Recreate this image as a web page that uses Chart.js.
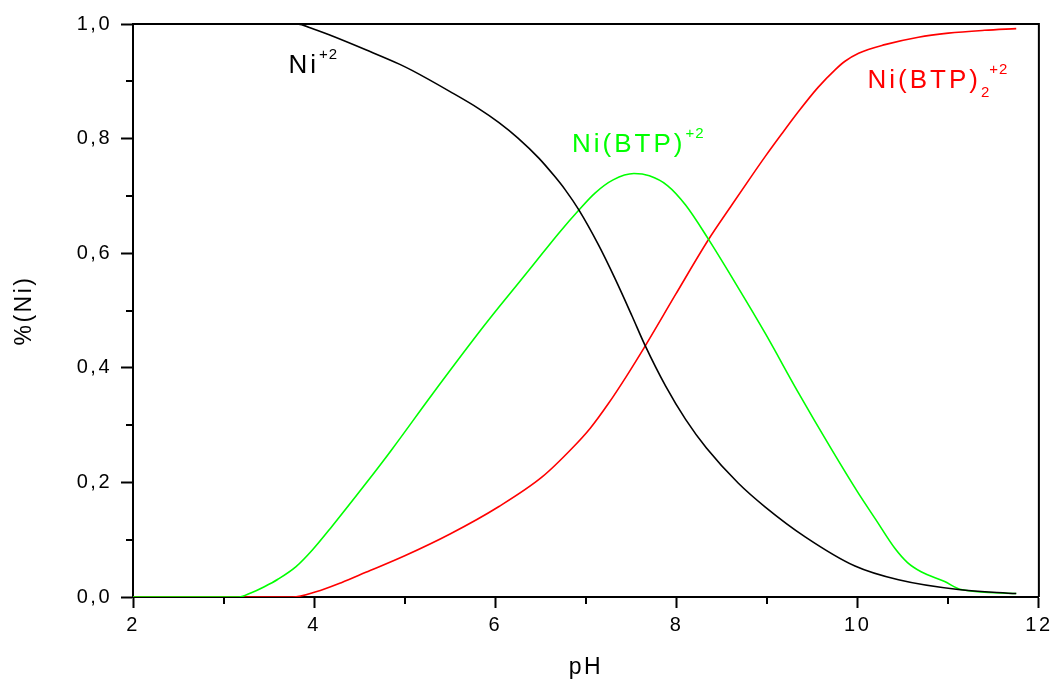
<!DOCTYPE html>
<html>
<head>
<meta charset="utf-8">
<script src="https://cdn.jsdelivr.net/npm/chart.js@4.4.1/dist/chart.umd.min.js"></script>
<style>
  html, body { margin: 0; padding: 0; background: #fff; }
  #wrap { width: 1055px; height: 683px; }
</style>
</head>
<body>
<div id="wrap"><canvas id="c" width="1055" height="683"></canvas></div>
<script>
// ---- data ----
const phNi = [2.0, 3.0, 3.8, 4.0, 4.2, 4.57, 4.94, 5.08, 5.5, 5.82, 6.04, 6.25, 6.48, 6.65, 6.77, 6.92, 7.14, 7.32, 7.51, 7.65, 7.88, 8.10, 8.33, 8.68, 8.98, 9.42, 9.97, 10.45, 11.11, 11.75];
const valNi = [1.0, 1.0, 1.0, 0.991, 0.979, 0.955, 0.930, 0.919, 0.882, 0.852, 0.828, 0.801, 0.766, 0.735, 0.711, 0.676, 0.614, 0.556, 0.490, 0.440, 0.368, 0.310, 0.260, 0.199, 0.157, 0.105, 0.054, 0.030, 0.013, 0.006];

const phNiBTP = [2.0, 3.17, 3.3, 3.45, 3.6, 3.8, 3.98, 4.2, 4.57, 4.86, 5.3, 5.82, 6.04, 6.41, 6.7, 6.92, 7.1, 7.3, 7.53, 7.7, 7.9, 8.1, 8.35, 8.68, 8.98, 9.34, 9.71, 10.0, 10.2, 10.41, 10.55, 10.7, 10.96, 11.14, 11.75];
const valNiBTP = [0.0, 0.0, 0.007, 0.018, 0.031, 0.053, 0.082, 0.124, 0.198, 0.258, 0.353, 0.462, 0.506, 0.578, 0.635, 0.675, 0.705, 0.728, 0.739, 0.735, 0.718, 0.684, 0.625, 0.540, 0.460, 0.358, 0.258, 0.183, 0.135, 0.085, 0.060, 0.044, 0.027, 0.013, 0.006];

const phNiBTP2 = [2.0, 3.76, 4.02, 4.3, 4.57, 5.0, 5.5, 6.04, 6.52, 6.85, 7.05, 7.25, 7.45, 7.65, 7.99, 8.35, 8.61, 8.83, 8.98, 9.16, 9.34, 9.56, 9.75, 9.86, 10.01, 10.30, 10.67, 11.0, 11.4, 11.75];
const valNiBTP2 = [0.0, 0.0, 0.009, 0.025, 0.043, 0.072, 0.110, 0.158, 0.210, 0.260, 0.295, 0.338, 0.386, 0.437, 0.528, 0.623, 0.684, 0.735, 0.769, 0.808, 0.846, 0.889, 0.920, 0.935, 0.949, 0.964, 0.977, 0.984, 0.989, 0.992];

const seriesNames = ['Ni+2', 'Ni(BTP)+2', 'Ni(BTP)2+2'];
const seriesColors = ['#000000', '#00ff00', '#ff0000'];

const xMin = 2, xMax = 12, xStep = 2;
const yMin = 0, yMax = 1, yStep = 0.2;
const xMinorTicks = [3, 5, 7, 9, 11];
const yMinorTicks = [0.1, 0.3, 0.5, 0.7, 0.9];

const xTitle = 'pH';
const yTitle = '%(Ni)';

// curve labels (text pieces: normal / sub / sup), anchored in data units
const curveLabels = [
  { parts: [['Ni', 'n'], ['+2', 'sup']], pH: 3.716, v: 0.915, color: '#000000' },
  { parts: [['Ni(BTP)', 'n'], ['+2', 'sup']], pH: 6.846, v: 0.777, color: '#00ff00' },
  { parts: [['Ni(BTP)', 'n'], ['2', 'sub'], ['+2', 'sup']], pH: 10.108, v: 0.888, color: '#ff0000' }
];

const FONT = '"Liberation Sans", Arial, Helvetica, sans-serif';

function toPoints(xs, ys) { return xs.map((x, i) => ({ x: x, y: ys[i] })); }

const extras = {
  id: 'extras',
  beforeDraw(chart) {
    chart.ctx.letterSpacing = '2.5px';
  },
  afterDraw(chart) {
    const ctx = chart.ctx;
    const a = chart.chartArea;
    const xs = chart.scales.x, ys = chart.scales.y;
    ctx.save();
    ctx.strokeStyle = '#000';
    ctx.lineWidth = 2;
    // frame top and right
    ctx.beginPath();
    ctx.moveTo(a.left, a.top); ctx.lineTo(a.right, a.top); ctx.lineTo(a.right, a.bottom);
    ctx.stroke();
    // minor ticks
    ctx.beginPath();
    xMinorTicks.forEach(t => { const px = Math.round(xs.getPixelForValue(t)); ctx.moveTo(px, a.bottom); ctx.lineTo(px, a.bottom + 7); });
    yMinorTicks.forEach(t => { const py = Math.round(ys.getPixelForValue(t)); ctx.moveTo(a.left, py); ctx.lineTo(a.left - 7, py); });
    ctx.stroke();
    // curve labels
    ctx.textBaseline = 'alphabetic';
    ctx.textAlign = 'left';
    curveLabels.forEach(lab => {
      let x = xs.getPixelForValue(lab.pH);
      const y = ys.getPixelForValue(lab.v);
      ctx.fillStyle = lab.color;
      lab.parts.forEach(([txt, kind]) => {
        let dy = 0;
        if (kind === 'n') { ctx.font = '26px ' + FONT; ctx.letterSpacing = '3px'; }
        else { ctx.font = '15px ' + FONT; ctx.letterSpacing = '1px'; dy = kind === 'sup' ? -14 : 9; }
        ctx.fillText(txt, x, y + dy);
        const w = ctx.measureText(txt).width;
        if (kind !== 'sub') x += w; else x += w - 1;
      });
    });
    ctx.restore();
  }
};

new Chart(document.getElementById('c'), {
  type: 'line',
  data: {
    datasets: [
      { label: seriesNames[0], data: toPoints(phNi, valNi) },
      { label: seriesNames[1], data: toPoints(phNiBTP, valNiBTP) },
      { label: seriesNames[2], data: toPoints(phNiBTP2, valNiBTP2) }
    ].map((d, i) => Object.assign(d, {
      borderColor: seriesColors[i], backgroundColor: seriesColors[i],
      borderWidth: 1.6, pointRadius: 0, fill: false, cubicInterpolationMode: 'monotone'
    }))
  },
  options: {
    responsive: false,
    animation: false,
    devicePixelRatio: 1,
    layout: { padding: { left: 0, top: 24, right: 15, bottom: 0 } },
    plugins: { legend: { display: false }, tooltip: { enabled: false } },
    scales: {
      x: {
        type: 'linear', min: xMin, max: xMax,
        afterFit(s) { s.height = 86; },
        ticks: { stepSize: xStep, color: '#000', padding: 5, font: { family: FONT, size: 20 },
                 callback: v => String(v) },
        grid: { drawOnChartArea: false, drawTicks: true, tickLength: 11, tickWidth: 2, tickColor: '#000' },
        border: { display: true, color: '#000', width: 2 },
        title: { display: true, text: xTitle, color: '#000', font: { family: FONT, size: 23 }, padding: { top: 0, bottom: 2 } }
      },
      y: {
        type: 'linear', min: yMin, max: yMax,
        afterFit(s) { s.width = 133; },
        ticks: { stepSize: yStep, color: '#000', padding: 9, font: { family: FONT, size: 20 },
                 callback: v => v.toFixed(1).replace('.', ',') },
        grid: { drawOnChartArea: false, drawTicks: true, tickLength: 12, tickWidth: 2, tickColor: '#000' },
        border: { display: true, color: '#000', width: 2 },
        title: { display: true, text: yTitle, color: '#000', font: { family: FONT, size: 23 }, padding: { top: 11, bottom: 0 } }
      }
    }
  },
  plugins: [extras]
});
</script>
</body>
</html>
